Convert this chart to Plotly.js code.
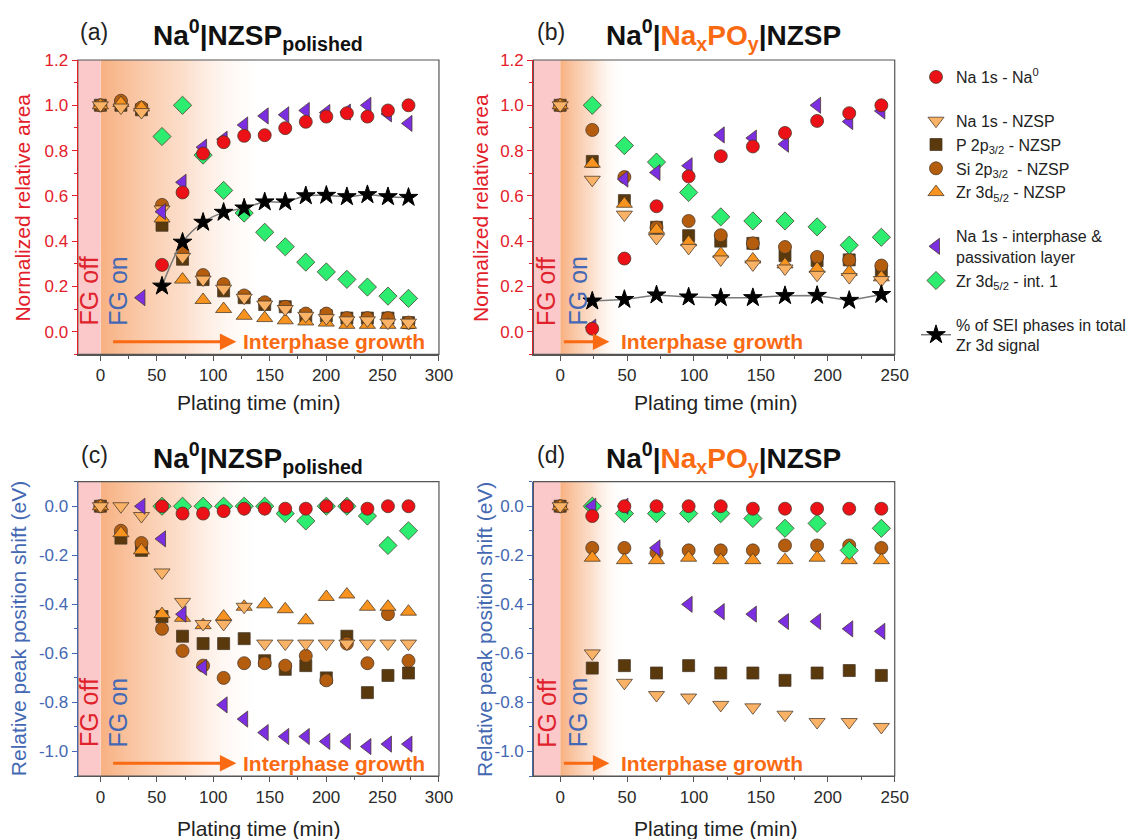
<!DOCTYPE html>
<html>
<head>
<meta charset="utf-8">
<script src="https://cdn.plot.ly/plotly-3.0.1.min.js"></script>
<style>
  html, body { margin: 0; padding: 0; background: #ffffff; }
  #chart { width: 1131px; height: 839px; }
</style>
</head>
<body>
<div id="chart"></div>
<script>
// ---------------- DATA ----------------
// Plating times (min)
const tA = [0, 18.2, 36.4, 54.6, 72.8, 91, 109.2, 127.4, 145.6, 163.8, 182, 200.2, 218.4, 236.6, 254.8, 273];
const tB = [0, 24, 48, 72, 96, 120, 144, 168, 192, 216, 240];

// (a) Na0|NZSP polished - normalized relative area
const aNa0    = [null, null, null, 0.295, 0.615, 0.787, 0.837, 0.865, 0.868, 0.899, 0.927, 0.950, 0.965, 0.950, 0.977, 1.000];
const aNaNZSP = [1.00, 0.99, 0.97, 0.54, 0.33, 0.23, 0.19, 0.15, 0.12, 0.10, 0.07, 0.06, 0.05, 0.05, 0.04, 0.04];
const aP      = [1.00, 1.00, 0.98, 0.47, 0.32, 0.23, 0.18, 0.15, 0.12, 0.11, 0.07, 0.07, 0.06, 0.06, 0.06, 0.04];
const aSi     = [1.00, 1.02, 0.99, 0.56, 0.35, 0.25, 0.21, 0.16, 0.13, 0.11, 0.08, 0.08, 0.06, 0.06, 0.06, 0.04];
const aZr     = [1.00, 1.01, 0.99, 0.50, 0.23, 0.14, 0.10, 0.07, 0.06, 0.05, 0.045, 0.04, 0.03, 0.03, 0.03, 0.03];
const aInt    = [null, null, 0.15, 0.53, 0.66, 0.815, 0.85, 0.913, 0.953, 0.958, 0.977, 0.968, 0.97, 1.00, 0.962, 0.92];
const aZrInt  = [null, null, null, 0.862, 1.00, 0.78, 0.624, 0.524, 0.439, 0.375, 0.307, 0.264, 0.231, 0.197, 0.157, 0.147];
const aSEI    = [null, null, null, 0.201, 0.395, 0.483, 0.527, 0.546, 0.573, 0.573, 0.600, 0.602, 0.596, 0.605, 0.596, 0.593];

// (b) Na0|NaxPOy|NZSP - normalized relative area
const bNa0    = [null, 0.013, 0.323, 0.554, 0.686, 0.775, 0.818, 0.878, 0.931, 0.965, 1.000];
const bNaNZSP = [1.00, 0.671, 0.517, 0.414, 0.370, 0.319, 0.297, 0.279, 0.251, 0.241, 0.228];
const bP      = [1.00, 0.752, 0.579, 0.461, 0.424, 0.400, 0.390, 0.336, 0.314, 0.317, 0.267];
const bSi     = [1.00, 0.891, 0.683, 0.460, 0.489, 0.426, 0.390, 0.374, 0.330, 0.317, 0.292];
const bZr     = [1.00, 0.742, 0.565, 0.450, 0.395, 0.344, 0.319, 0.297, 0.278, 0.264, 0.240];
const bInt    = [null, 0.02, 0.674, 0.703, 0.733, 0.869, 0.855, 0.828, 1.000, 0.928, 0.975];
const bZrInt  = [null, 1.00, 0.822, 0.749, 0.615, 0.507, 0.489, 0.489, 0.463, 0.382, 0.417];
const bSEI    = [null, 0.135, 0.142, 0.162, 0.153, 0.150, 0.150, 0.159, 0.160, 0.138, 0.164];

// (c) Na0|NZSP polished - relative peak position shift (eV)
const cNa0    = [null, null, null, 0.00, -0.03, -0.03, -0.02, -0.01, -0.01, -0.01, -0.01, 0.00, 0.00, -0.01, 0.00, 0.00];
const cNaNZSP = [0.00, 0.00, -0.04, -0.27, -0.39, -0.48, -0.48, -0.41, -0.56, -0.56, -0.56, -0.56, -0.56, -0.56, -0.56, -0.56];
const cP      = [0.00, -0.13, -0.18, -0.45, -0.53, -0.56, -0.56, -0.54, -0.63, -0.665, -0.65, -0.70, -0.53, -0.76, -0.69, -0.68];
const cSi     = [0.00, -0.10, -0.15, -0.50, -0.59, -0.65, -0.70, -0.64, -0.64, -0.65, -0.61, -0.71, -0.56, -0.64, -0.44, -0.63];
const cZr     = [0.00, -0.11, -0.18, -0.44, -0.455, -0.485, -0.45, -0.41, -0.40, -0.42, -0.465, -0.37, -0.36, -0.41, -0.41, -0.43];
const cInt    = [null, null, 0.00, -0.133, -0.44, -0.657, -0.81, -0.868, -0.923, -0.939, -0.939, -0.959, -0.959, -0.98, -0.97, -0.97];
const cZrInt  = [null, null, null, 0.00, 0.00, 0.00, 0.00, 0.00, 0.00, -0.03, -0.06, 0.00, 0.00, -0.04, -0.16, -0.10];

// (d) Na0|NaxPOy|NZSP - relative peak position shift (eV)
const dNa0    = [null, -0.04, 0.00, 0.00, 0.00, 0.00, -0.01, -0.01, -0.01, -0.01, -0.01];
const dNaNZSP = [0.00, -0.60, -0.72, -0.77, -0.78, -0.81, -0.82, -0.85, -0.88, -0.88, -0.90];
const dP      = [0.00, -0.66, -0.65, -0.68, -0.65, -0.68, -0.68, -0.71, -0.68, -0.67, -0.69];
const dSi     = [0.00, -0.17, -0.17, -0.19, -0.18, -0.18, -0.18, -0.16, -0.16, -0.16, -0.17];
const dZr     = [0.00, -0.21, -0.22, -0.22, -0.21, -0.22, -0.22, -0.22, -0.21, -0.22, -0.22];
const dInt    = [null, 0.00, 0.00, -0.17, -0.40, -0.43, -0.44, -0.47, -0.47, -0.50, -0.51];
const dZrInt  = [null, 0.00, -0.03, -0.03, -0.03, -0.03, -0.05, -0.09, -0.07, -0.18, -0.09];

// Tick labels
const xTickValsA = [0, 50, 100, 150, 200, 250, 300];
const xTickValsB = [0, 50, 100, 150, 200, 250];
const yTickValsTop = [0, 0.2, 0.4, 0.6, 0.8, 1.0, 1.2];
const yTickTextTop = ['0.0', '0.2', '0.4', '0.6', '0.8', '1.0', '1.2'];
const yTickValsBot = [-1.0, -0.8, -0.6, -0.4, -0.2, 0.0];
const yTickTextBot = ['-1.0', '-0.8', '-0.6', '-0.4', '-0.2', '0.0'];

// Series names (legend)
const seriesNames = {
  Na0: 'Na 1s - Na<sup>0</sup>',
  NaNZSP: 'Na 1s - NZSP',
  P: 'P 2p<sub>3/2</sub> - NZSP',
  Si: 'Si 2p<sub>3/2</sub>  - NZSP',
  Zr: 'Zr 3d<sub>5/2</sub> - NZSP',
  Int: 'Na 1s - interphase &<br>passivation layer',
  ZrInt: 'Zr 3d<sub>5/2</sub> - int. 1',
  SEI: '% of SEI phases in total<br>Zr 3d signal'
};

// ---------------- STYLE ----------------
const FONT = 'Liberation Sans, Arial, Helvetica, sans-serif';
const RED = '#e3202a';
const BLUE = '#4468b2';
const ORANGE = '#fa6a12';

// drawing order bottom -> top
const style = {
  P:      {symbol: 'square',        color: '#5a3a0d', size: 12, rank: 3, group: 'g2'},
  Si:     {symbol: 'circle',        color: '#b55d0e', size: 13, rank: 4, group: 'g2'},
  Zr:     {symbol: 'triangle-up',   color: '#f7931e', size: 14, rank: 5, group: 'g2'},
  NaNZSP: {symbol: 'triangle-down', color: '#fab266', size: 14, rank: 2, group: 'g2'},
  ZrInt:  {symbol: 'diamond',       color: '#2ded70', size: 14, rank: 7, group: 'g3'},
  Int:    {symbol: 'triangle-left', color: '#7b2fe0', size: 14, rank: 6, group: 'g3'},
  Na0:    {symbol: 'circle',        color: '#ec1117', size: 13, rank: 1, group: 'g1'},
  SEI:    {symbol: 'star',          color: '#000000', size: 14, rank: 8, group: 'g4'}
};
const order = ['P', 'Si', 'Zr', 'NaNZSP', 'ZrInt', 'Int', 'Na0', 'SEI'];

const panels = [
  {id: 'a', xa: 'x',  ya: 'y',  t: tA, spline: true,
   d: {Na0: aNa0, NaNZSP: aNaNZSP, P: aP, Si: aSi, Zr: aZr, Int: aInt, ZrInt: aZrInt, SEI: aSEI}},
  {id: 'b', xa: 'x2', ya: 'y2', t: tB, spline: false,
   d: {Na0: bNa0, NaNZSP: bNaNZSP, P: bP, Si: bSi, Zr: bZr, Int: bInt, ZrInt: bZrInt, SEI: bSEI}},
  {id: 'c', xa: 'x3', ya: 'y3', t: tA,
   d: {Na0: cNa0, NaNZSP: cNaNZSP, P: cP, Si: cSi, Zr: cZr, Int: cInt, ZrInt: cZrInt}},
  {id: 'd', xa: 'x4', ya: 'y4', t: tB,
   d: {Na0: dNa0, NaNZSP: dNaNZSP, P: dP, Si: dSi, Zr: dZr, Int: dInt, ZrInt: dZrInt}}
];

const traces = [];
panels.forEach(function (p, pi) {
  order.forEach(function (k) {
    if (!p.d[k]) return;
    const s = style[k];
    const tr = {
      type: 'scatter',
      x: p.t, y: p.d[k],
      xaxis: p.xa, yaxis: p.ya,
      name: seriesNames[k],
      legendgroup: s.group,
      legendrank: s.rank,
      showlegend: pi === 0,
      mode: k === 'SEI' ? 'lines+markers' : 'markers',
      marker: {symbol: s.symbol, color: s.color, size: s.size,
               line: {color: k === 'SEI' ? '#000' : 'rgba(70,55,40,0.75)', width: 1}},
      cliponaxis: false,
      hoverinfo: 'skip'
    };
    if (k === 'SEI') {
      tr.line = {color: '#7a7a7a', width: 1.5, shape: p.spline ? 'spline' : 'linear'};
    }
    traces.push(tr);
  });
});

// ---------------- LAYOUT ----------------
const W = 1131, H = 839;
const dom = {
  xL: [78.3 / W, 441.7 / W],
  xR: [536.7 / W, 900.3 / W],
  yT: [1 - 354.3 / H, 1 - 60 / H],
  yB: [1 - 776 / H, 1 - 481.7 / H]
};

function xAxis(domain, anchor, range, tickvals) {
  return {
    domain: domain, anchor: anchor, range: range,
    tickmode: 'array', tickvals: tickvals, ticktext: tickvals.map(String),
    ticks: 'outside', ticklen: 5, tickwidth: 1, tickcolor: '#555',
    minor: {tickmode: 'linear', tick0: 0, dtick: 25, ticks: 'outside', ticklen: 3, tickcolor: '#555'},
    showline: true, linecolor: '#555', linewidth: 1.2, mirror: false,
    showgrid: false, zeroline: false,
    tickfont: {family: FONT, size: 17, color: '#2a2a2a'},
    fixedrange: true
  };
}
function yAxis(domain, anchor, range, tickvals, ticktext, color) {
  return {
    domain: domain, anchor: anchor, range: range,
    tickmode: 'array', tickvals: tickvals, ticktext: ticktext,
    ticks: 'outside', ticklen: 5, tickwidth: 1, tickcolor: color,
    minor: {tickmode: 'linear', tick0: 0, dtick: 0.1, ticks: 'outside', ticklen: 3, tickcolor: color},
    showline: true, linecolor: color, linewidth: 1.2, mirror: false,
    showgrid: false, zeroline: false,
    tickfont: {family: FONT, size: 17, color: color},
    fixedrange: true
  };
}

function gradURI() {
  const svg = "<svg xmlns='http://www.w3.org/2000/svg' width='200' height='20' preserveAspectRatio='none'>" +
    "<defs><linearGradient id='g' x1='0' y1='0' x2='1' y2='0'>" +
    "<stop offset='0' stop-color='#f6a26a' stop-opacity='0.85'/>" +
    "<stop offset='0.5' stop-color='#f8b88e' stop-opacity='0.45'/>" +
    "<stop offset='1' stop-color='#ffffff' stop-opacity='0'/>" +
    "</linearGradient></defs><rect width='200' height='20' fill='url(#g)'/></svg>";
  return 'data:image/svg+xml;charset=utf-8,' + encodeURIComponent(svg);
}

const fade = [
  {xa: 'x',  ydom: dom.yT, len: 150},
  {xa: 'x2', ydom: dom.yT, len: 48},
  {xa: 'x3', ydom: dom.yB, len: 145},
  {xa: 'x4', ydom: dom.yB, len: 48}
];
const images = fade.map(function (f) {
  return {source: gradURI(), xref: f.xa, yref: 'paper', x: 0, y: f.ydom[1],
          sizex: f.len, sizey: f.ydom[1] - f.ydom[0], xanchor: 'left', yanchor: 'top',
          sizing: 'stretch', layer: 'below'};
});

const shapes = [];
const annotations = [];
const axPairs = [['x', 'y'], ['x2', 'y2'], ['x3', 'y3'], ['x4', 'y4']];
axPairs.forEach(function (ap, i) {
  shapes.push({type: 'rect', xref: ap[0], yref: ap[1] + ' domain', x0: -20, x1: 0, y0: 0, y1: 1,
               fillcolor: '#fbc9c9', line: {width: 0}, layer: 'below'});
  shapes.push({type: 'rect', xref: ap[0] + ' domain', yref: ap[1] + ' domain', x0: 0, x1: 1, y0: 0, y1: 1,
               fillcolor: 'rgba(0,0,0,0)', line: {color: '#555', width: 1.2}, layer: 'below'});
  // FG off / FG on labels
  annotations.push({text: 'FG off', xref: ap[0], yref: ap[1] + ' domain', x: -10, y: 0.09,
                    xanchor: 'center', yanchor: 'bottom', textangle: -90, showarrow: false,
                    font: {family: FONT, size: 25, color: '#e0222c'}});
  annotations.push({text: 'FG on', xref: ap[0], yref: ap[1] + ' domain', x: 0, xshift: 18, y: 0.09,
                    xanchor: 'center', yanchor: 'bottom', textangle: -90, showarrow: false,
                    font: {family: FONT, size: 25, color: '#4468b4'}});
  // interphase growth arrow + label
  const wide = (i === 0 || i === 2);
  annotations.push({text: ' ', xref: ap[0], yref: ap[1] + ' domain', x: wide ? 120.5 : 36.8, y: 0.043,
                    axref: ap[0], ayref: 'pixel', ax: wide ? 9.5 : 1.3, ay: 0,
                    showarrow: true, arrowhead: 2, arrowsize: 1.1, arrowwidth: 3, arrowcolor: ORANGE,
                    standoff: 0, startstandoff: 0, font: {size: 2}});
  annotations.push({text: '<b>Interphase growth</b>', xref: ap[0], yref: ap[1] + ' domain',
                    x: wide ? 125 : 44, y: 0.043, xanchor: 'left', yanchor: 'middle', showarrow: false,
                    font: {family: FONT, size: 21, color: ORANGE}});
});

// Panel titles
const titleFont = {family: 'Liberation Sans, Arial, sans-serif', size: 28, color: '#111'};
const labFont = {family: FONT, size: 23, color: '#222'};
const titleDefs = [
  {lab: '(a)', lx: 95,  y: 32,  tx: 260,   t: '<b>Na<sup>0</sup>|NZSP<sub>polished</sub></b>'},
  {lab: '(b)', lx: 554, y: 32,  tx: 728.5, t: "<b>Na<sup>0</sup>|<span style='color:#fa6a12'>Na<sub>x</sub>PO<sub>y</sub></span>|NZSP</b>"},
  {lab: '(c)', lx: 95,  y: 455, tx: 260,   t: '<b>Na<sup>0</sup>|NZSP<sub>polished</sub></b>'},
  {lab: '(d)', lx: 554, y: 455, tx: 728.5, t: "<b>Na<sup>0</sup>|<span style='color:#fa6a12'>Na<sub>x</sub>PO<sub>y</sub></span>|NZSP</b>"}
];
titleDefs.forEach(function (d) {
  annotations.push({text: d.lab, xref: 'paper', yref: 'paper', x: d.lx / W, y: 1 - d.y / H,
                    xanchor: 'center', yanchor: 'middle', showarrow: false, font: labFont});
  annotations.push({text: d.t, xref: 'paper', yref: 'paper', x: d.tx / W, y: 1 - d.y / H,
                    xanchor: 'center', yanchor: 'middle', yshift: -3, showarrow: false, font: titleFont});
});

// Axis titles
const axTitleFont = {family: FONT, size: 21, color: '#222'};
[[260, 403], [720, 403], [260, 828], [720, 828]].forEach(function (p) {
  annotations.push({text: 'Plating time (min)', xref: 'paper', yref: 'paper', x: p[0] / W, y: 1 - p[1] / H,
                    xanchor: 'center', yanchor: 'middle', showarrow: false, font: axTitleFont});
});
[[21.7, 208, 'Normalized relative area', RED], [483, 208, 'Normalized relative area', RED],
 [18.3, 629, 'Relative peak position shift (eV)', BLUE], [487, 629, 'Relative peak position shift (eV)', BLUE]
].forEach(function (p) {
  annotations.push({text: p[2], xref: 'paper', yref: 'paper', x: p[0] / W, y: 1 - p[1] / H,
                    xanchor: 'center', yanchor: 'middle', textangle: -90, showarrow: false,
                    font: {family: FONT, size: 21, color: p[3]}});
});

const layout = {
  width: W, height: H,
  margin: {l: 0, r: 0, t: 0, b: 0, pad: 0},
  paper_bgcolor: '#ffffff', plot_bgcolor: 'rgba(0,0,0,0)',
  font: {family: FONT, color: '#222'},
  showlegend: true,
  legend: {x: 922 / W, y: 1 - 60 / H, xanchor: 'left', yanchor: 'top',
           traceorder: 'grouped', tracegroupgap: 20, bgcolor: 'rgba(0,0,0,0)',
           font: {family: FONT, size: 16, color: '#222'}},
  xaxis:  xAxis(dom.xL, 'y',  [-20, 300], xTickValsA),
  xaxis2: xAxis(dom.xR, 'y2', [-20, 250], xTickValsB),
  xaxis3: xAxis(dom.xL, 'y3', [-20, 300], xTickValsA),
  xaxis4: xAxis(dom.xR, 'y4', [-20, 250], xTickValsB),
  yaxis:  yAxis(dom.yT, 'x',  [-0.1, 1.2], yTickValsTop, yTickTextTop, RED),
  yaxis2: yAxis(dom.yT, 'x2', [-0.1, 1.2], yTickValsTop, yTickTextTop, RED),
  yaxis3: yAxis(dom.yB, 'x3', [-1.1, 0.1], yTickValsBot, yTickTextBot, BLUE),
  yaxis4: yAxis(dom.yB, 'x4', [-1.1, 0.1], yTickValsBot, yTickTextBot, BLUE),
  shapes: shapes,
  images: images,
  annotations: annotations
};

Plotly.newPlot('chart', traces, layout, {staticPlot: true, displayModeBar: false});
</script>
</body>
</html>
